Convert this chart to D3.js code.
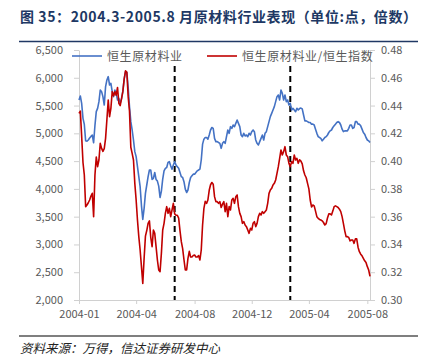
<!DOCTYPE html>
<html>
<head>
<meta charset="utf-8">
<script src="https://cdn.jsdelivr.net/npm/d3@7"></script>
<style>
  body { margin: 0; background: #fff; }
  text { font-family: "Noto Sans CJK SC", "Noto Sans", sans-serif; }
</style>
</head>
<body>
<div id="chart"></div>
<script>
// data (trading days, equally spaced)
var xTickLabels = ["2004-01", "2004-04", "2004-08", "2004-12", "2005-04", "2005-08"];
var xTickIdx = [0, 43, 87, 130, 173, 217];
var markerIdx = [72, 159];

var leftTicks = [2000, 2500, 3000, 3500, 4000, 4500, 5000, 5500, 6000, 6500];
var rightTicks = [0.30, 0.32, 0.34, 0.36, 0.38, 0.40, 0.42, 0.44, 0.46, 0.48];

var seriesNames = ["恒生原材料业", "恒生原材料业/恒生指数"];

// 恒生原材料业 (points)
var hsMaterials = [
  5600, 5672, 5540, 5270, 5160, 4865, 4860, 4880, 4915, 4945,
  4970, 4830, 5140, 5390, 5450, 5570, 5780, 5750, 5660, 5510,
  5840, 5960, 6020, 5870, 5900, 5750, 5660, 5780, 5720, 5600,
  5630, 5540, 5620, 5760, 5980, 6110, 6100, 5830, 5480, 5210,
  5060, 4880, 4670, 4580, 4400, 4220, 4040, 3700, 3450, 3650,
  3920, 4070, 4220, 4340, 4340,
  4170, 4190, 4295, 4170, 4140, 4050, 3845, 3960, 4175, 4325,
  4370, 4385, 4475, 4490, 4415, 4355, 4430, 4490, 4430, 4400,
  4370, 4295, 4220, 4205, 4130, 3995, 3935, 3980, 4115, 4205,
  4235, 4265, 4265, 4295, 4325, 4340, 4355, 4520, 4805, 4895,
  4925, 4925, 4895, 4970, 5060, 5105, 5090, 4910, 4850, 4850,
  4835, 4820, 4730, 4820, 4850,
  4820, 4940, 5060, 5000, 5120, 5090, 5150, 5120, 5180, 5240,
  5180, 5120, 4970, 4940, 5000, 4952, 4970, 4940, 5000, 4970,
  5030, 5060, 5030, 4880, 4820, 4790, 4850, 4910, 4970, 4880,
  5000, 5030, 5120, 5210, 5300, 5360, 5420, 5480, 5570, 5660,
  5690, 5600, 5780, 5720, 5600, 5690, 5570, 5600, 5510, 5540,
  5420, 5450, 5420, 5390, 5450, 5420,
  5445, 5455, 5440, 5330, 5225, 5225, 5210, 5195, 5195, 5165,
  5165, 5150, 5075, 5000, 4940, 4925, 4910, 4865, 4895, 4925,
  4940, 4970, 5015, 5045, 5060, 5105, 5135, 5165, 5195, 5210,
  5195, 5150, 5075, 5030, 5045, 5045, 5045, 5090, 5150, 5150,
  5090, 5105, 5210, 5210, 5165, 5165, 5135, 5075, 5015, 4985,
  4925, 4880, 4865, 4835
];

// 恒生原材料业/恒生指数 (ratio)
var hsRatio = [
  0.4344, 0.436, 0.418, 0.399, 0.390, 0.3672, 0.3684, 0.370, 0.372, 0.3748,
  0.3768, 0.360, 0.390, 0.403, 0.396, 0.4008, 0.4128, 0.4092, 0.407, 0.409,
  0.4164, 0.430, 0.444, 0.432, 0.438, 0.450, 0.447, 0.450, 0.4475, 0.453,
  0.4416, 0.440, 0.445, 0.450, 0.459, 0.465, 0.464, 0.4464, 0.436, 0.410,
  0.4056, 0.4008, 0.384, 0.372, 0.3576, 0.3456, 0.336, 0.324, 0.312, 0.330,
  0.346, 0.350, 0.3552, 0.357, 0.345,
  0.3384, 0.3504, 0.348, 0.3384, 0.3288, 0.3216, 0.3204, 0.3336, 0.3504, 0.3552,
  0.3624, 0.3672, 0.3624, 0.366, 0.360, 0.3648, 0.3696, 0.362, 0.361, 0.361,
  0.359, 0.350, 0.342, 0.337, 0.329, 0.3216, 0.3216, 0.330, 0.335, 0.331,
  0.331, 0.332, 0.3324, 0.331, 0.331, 0.332, 0.3288, 0.336, 0.354, 0.366,
  0.371, 0.3696, 0.372, 0.379, 0.383, 0.3846, 0.3834, 0.3744, 0.3708, 0.3708,
  0.3696, 0.3708, 0.3666, 0.369, 0.3708,
  0.3636, 0.3696, 0.36, 0.3672, 0.3648, 0.372, 0.3732, 0.3696, 0.3744, 0.3756,
  0.3672, 0.3624, 0.36, 0.3552, 0.3564, 0.354, 0.3528, 0.3504, 0.348, 0.3516,
  0.3504, 0.3552, 0.3564, 0.3528, 0.3552, 0.36, 0.3624, 0.3612, 0.3636, 0.3624,
  0.3636, 0.3648, 0.3696, 0.3768, 0.3792, 0.3804, 0.3828, 0.384, 0.3864, 0.3912,
  0.396, 0.402, 0.408, 0.4044, 0.4068, 0.4104, 0.4044, 0.4032, 0.3984, 0.396,
  0.3996, 0.3984, 0.4044, 0.4008, 0.402, 0.3984,
  0.401, 0.400, 0.398, 0.393, 0.390, 0.388, 0.384, 0.380, 0.372, 0.367,
  0.3684, 0.3678, 0.364, 0.360, 0.3588, 0.358, 0.3576, 0.357, 0.3558, 0.354,
  0.355, 0.359, 0.362, 0.362, 0.3612, 0.364, 0.3672, 0.3678, 0.3672, 0.3666,
  0.3654, 0.3636, 0.36, 0.355, 0.3498, 0.3456, 0.3456, 0.345, 0.3426, 0.3432,
  0.3432, 0.3408, 0.344, 0.344, 0.338, 0.3348, 0.333, 0.3318, 0.33, 0.3282,
  0.327, 0.324, 0.3216, 0.317
];

var svgWidth = 431;
var svgHeight = 359;
var margin = { top: 50, right: 61, bottom: 59, left: 79 };
var width = svgWidth - margin.left - margin.right;
var height = svgHeight - margin.top - margin.bottom;

var svg = d3.select("#chart")
  .append("svg")
  .attr("width", svgWidth)
  .attr("height", svgHeight);

// title + rules
svg.append("text")
  .attr("x", 20)
  .attr("y", 22)
  .attr("font-size", 14)
  .attr("font-weight", "bold")
  .attr("fill", "#203864")
  .attr("textLength", 397)
  .attr("lengthAdjust", "spacing")
  .text("图 35：2004.3-2005.8 月原材料行业表现（单位:点，倍数）");

svg.append("line")
  .attr("x1", 19).attr("x2", 418)
  .attr("y1", 41.5).attr("y2", 41.5)
  .attr("stroke", "#203864")
  .attr("stroke-width", 1.5);

svg.append("line")
  .attr("x1", 19).attr("x2", 418)
  .attr("y1", 336).attr("y2", 336)
  .attr("stroke", "#000")
  .attr("stroke-width", 1.2);

svg.append("text")
  .attr("x", 20)
  .attr("y", 353)
  .attr("font-size", 12.5)
  .attr("font-style", "italic")
  .attr("fill", "#222")
  .text("资料来源：万得，信达证券研发中心");

var chartGroup = svg.append("g")
  .attr("transform", `translate(${margin.left}, ${margin.top})`);

// scales
var n = hsMaterials.length;
var xScale = d3.scaleLinear().domain([0, n - 1]).range([0, width]);
var yLeft = d3.scaleLinear().domain([2000, 6500]).range([height, 0]);
var yRight = d3.scaleLinear().domain([0.30, 0.48]).range([height, 0]);

var axisColor = "#d0d0d0";
var labelColor = "#595959";

function styleAxis(g) {
  g.select(".domain").attr("stroke", axisColor);
  g.selectAll(".tick line").attr("stroke", axisColor);
  g.selectAll(".tick text")
    .attr("fill", labelColor)
    .attr("font-size", 11)
    .attr("font-family", "'Noto Sans CJK SC', sans-serif");
}

var bottomAxis = d3.axisBottom(xScale)
  .tickValues(xTickIdx)
  .tickFormat((d, i) => xTickLabels[i])
  .tickSize(4)
  .tickSizeOuter(0)
  .tickPadding(6);

var leftAxis = d3.axisLeft(yLeft)
  .tickValues(leftTicks)
  .tickFormat(d3.format(","))
  .tickSize(5)
  .tickSizeOuter(0)
  .tickPadding(11);

var rightAxis = d3.axisRight(yRight)
  .tickValues(rightTicks)
  .tickFormat(d3.format(".2f"))
  .tickSize(5)
  .tickSizeOuter(0)
  .tickPadding(6);

chartGroup.append("g")
  .attr("transform", `translate(0, ${height})`)
  .call(bottomAxis)
  .call(styleAxis);

chartGroup.append("g")
  .call(leftAxis)
  .call(styleAxis);

chartGroup.append("g")
  .attr("transform", `translate(${width}, 0)`)
  .call(rightAxis)
  .call(styleAxis);

// event markers
chartGroup.selectAll(".marker")
  .data(markerIdx)
  .join("line")
  .attr("class", "marker")
  .attr("x1", d => xScale(d))
  .attr("x2", d => xScale(d))
  .attr("y1", 16)
  .attr("y2", height)
  .attr("stroke", "#000")
  .attr("stroke-width", 2)
  .attr("stroke-dasharray", "6,4");

// lines
var blueLine = d3.line()
  .x((d, i) => xScale(i))
  .y(d => yLeft(d));

var redLine = d3.line()
  .x((d, i) => xScale(i))
  .y(d => yRight(d));

chartGroup.append("path")
  .datum(hsMaterials)
  .attr("fill", "none")
  .attr("stroke", "#4472C4")
  .attr("stroke-width", 1.6)
  .attr("stroke-linejoin", "round")
  .attr("d", blueLine);

chartGroup.append("path")
  .datum(hsRatio)
  .attr("fill", "none")
  .attr("stroke", "#C00000")
  .attr("stroke-width", 1.6)
  .attr("stroke-linejoin", "round")
  .attr("d", redLine);

// legend
var legendX = [72, 207];
var legend = svg.selectAll(".legend")
  .data(seriesNames)
  .join("g")
  .attr("class", "legend")
  .attr("transform", (d, i) => `translate(${legendX[i]}, 56)`);

legend.append("line")
  .attr("x1", 0).attr("x2", 30)
  .attr("y1", 0).attr("y2", 0)
  .attr("stroke", (d, i) => i === 0 ? "#4472C4" : "#C00000")
  .attr("stroke-width", 1.6);

legend.append("text")
  .attr("x", 35)
  .attr("y", 4.5)
  .attr("font-size", 12)
  .attr("letter-spacing", 0.6)
  .attr("fill", labelColor)
  .text(d => d);
</script>
</body>
</html>
